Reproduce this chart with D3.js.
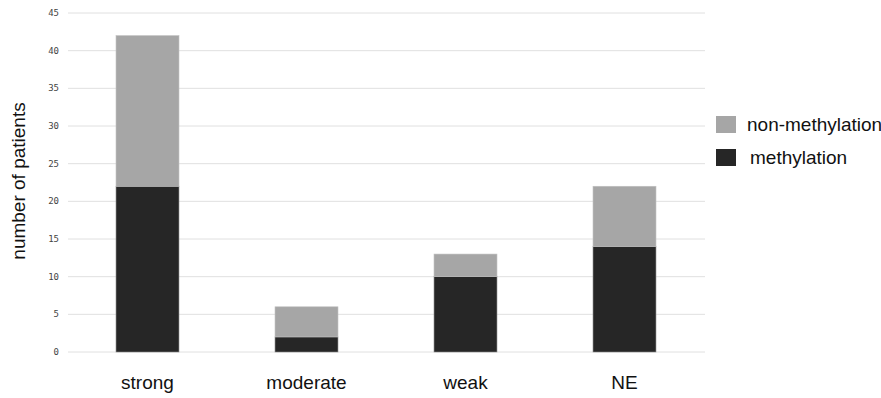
<!DOCTYPE html>
<html><head><meta charset="utf-8">
<script src="https://cdn.jsdelivr.net/npm/d3@7"></script>
<style>body{margin:0;background:#fff}</style>
</head><body>
<svg id="c" width="881" height="398"></svg>
<script>
const categories = ["strong", "moderate", "weak", "NE"];
const methylation = [22, 2, 10, 14];
const nonMethylation = [20, 4, 3, 8];
const yTicks = [0, 5, 10, 15, 20, 25, 30, 35, 40, 45];
const seriesNames = ["non-methylation", "methylation"];
const colors = {"methylation": "#262626", "non-methylation": "#a6a6a6"};

const svg = d3.select("#c");
const x = d3.scaleBand().domain(categories).range([68, 704]).padding(0);
const y = d3.scaleLinear().domain([0, 45]).range([352, 13]);
const barW = x.bandwidth() * 0.396;

// gridlines
svg.append("g").selectAll("line").data(yTicks).join("line")
  .attr("x1", 68).attr("x2", 705)
  .attr("y1", d => y(d)).attr("y2", d => y(d))
  .attr("stroke", "#e0e0e0").attr("stroke-width", 1);

// y tick labels
svg.append("g").selectAll("text").data(yTicks).join("text")
  .attr("x", 59).attr("y", d => y(d)).attr("dy", "0.35em")
  .attr("text-anchor", "end")
  .attr("font-family", "DejaVu Sans Mono, monospace")
  .attr("font-size", 9).attr("fill", "#444")
  .text(d => d);

const data = categories.map((c, i) => ({c, m: methylation[i], n: nonMethylation[i]}));
const g = svg.append("g");
g.selectAll("rect.m").data(data).join("rect").attr("class", "m")
  .attr("x", d => x(d.c) + x.bandwidth()/2 - barW/2)
  .attr("width", barW)
  .attr("y", d => y(d.m)).attr("height", d => y(0) - y(d.m))
  .attr("fill", colors["methylation"]).attr("stroke", "#8a8a8a").attr("stroke-width", 0.6);
g.selectAll("rect.n").data(data).join("rect").attr("class", "n")
  .attr("x", d => x(d.c) + x.bandwidth()/2 - barW/2)
  .attr("width", barW)
  .attr("y", d => y(d.m + d.n)).attr("height", d => y(d.m) - y(d.m + d.n))
  .attr("fill", colors["non-methylation"]).attr("stroke", "#c0c0c0").attr("stroke-width", 0.6);

// category labels
svg.append("g").selectAll("text").data(categories).join("text")
  .attr("x", d => x(d) + x.bandwidth()/2).attr("y", 389)
  .attr("text-anchor", "middle")
  .attr("font-family", "Liberation Sans, Arial, sans-serif")
  .attr("font-size", 19).attr("fill", "#111")
  .text(d => d);

// y axis title
svg.append("text")
  .attr("transform", "translate(25,181) rotate(-90)")
  .attr("text-anchor", "middle")
  .attr("font-family", "Liberation Sans, Arial, sans-serif")
  .attr("font-size", 19).attr("fill", "#111")
  .text("number of patients");

// legend
const leg = svg.append("g");
const legY = [116, 149];
const legTX = [747, 750];
seriesNames.forEach((s, i) => {
  leg.append("rect").attr("x", 716).attr("y", legY[i]).attr("width", 20).attr("height", 17)
    .attr("fill", colors[s]);
  leg.append("text").attr("x", legTX[i]).attr("y", legY[i] + 8.5).attr("dy", "0.35em")
    .attr("font-family", "Liberation Sans, Arial, sans-serif")
    .attr("font-size", 19).attr("fill", "#111")
    .text(s);
});
</script>
</body></html>
